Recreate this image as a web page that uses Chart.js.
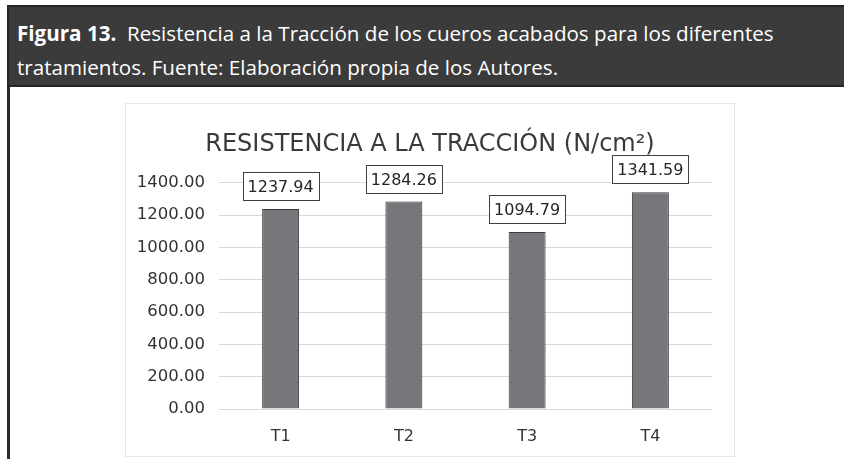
<!DOCTYPE html>
<html>
<head>
<meta charset="utf-8">
<script src="https://cdn.jsdelivr.net/npm/chart.js@4.4.1/dist/chart.umd.min.js"></script>
<style>
  html, body { margin: 0; padding: 0; background: #fff; }
  body { width: 844px; height: 459px; position: relative; overflow: hidden; font-family: "Open Sans", "Liberation Sans", sans-serif; }
  #banner { position: absolute; left: 7px; top: 5px; width: 850px; height: 82px; background: #3b3b3b; border: 2px solid #262626; box-sizing: border-box; color: #fff; font-family: "Open Sans", sans-serif; font-size: 20.6px; line-height: 34px; padding: 9px 0 0 8px; letter-spacing: 0; }
  #banner b { font-weight: bold; }
  #leftline { position: absolute; left: 7px; top: 87px; width: 3px; height: 380px; background: #2b2b2b; }
  #box { position: absolute; left: 125px; top: 103px; width: 610px; height: 354px; border: 1px solid #e6e6e6; box-sizing: border-box; background: #fff; }
  #c { position: absolute; left: 0; top: 0; }
</style>
</head>
<body>
<div id="banner"><b>Figura 13.</b>&nbsp; Resistencia a la Tracción de los cueros acabados para los diferentes<br>tratamientos. Fuente: Elaboración propia de los Autores.</div>
<div id="leftline"></div>
<div id="box"><canvas id="c" width="608" height="352"></canvas></div>
<script>
const categories = ["T1", "T2", "T3", "T4"];
const values = [1237.94, 1284.26, 1094.79, 1341.59];
const yTicks = [0, 200, 400, 600, 800, 1000, 1200, 1400];
const chartTitle = "RESISTENCIA A LA TRACCIÓN (N/cm²)";

const FONT = "'DejaVu Sans', sans-serif";

const labelBoxes = {
  id: "labelBoxes",
  afterLayout(chart) {
    if (chart.titleBlock) chart.titleBlock.left += 22;
  },
  afterDatasetsDraw(chart) {
    const ctx = chart.ctx;
    const meta = chart.getDatasetMeta(0);
    ctx.save();
    ctx.font = "16px " + FONT;
    ctx.textAlign = "center";
    ctx.textBaseline = "middle";
    meta.data.forEach((bar, i) => {
      const txt = values[i].toFixed(2);
      const w = Math.round(ctx.measureText(txt).width + 10);
      const h = 28;
      const bottom = bar.y - 9;
      const x0 = Math.round(bar.x - w / 2) + 0.5;
      const y0 = Math.round(bottom - h) + 0.5;
      ctx.fillStyle = "#ffffff";
      ctx.fillRect(x0, y0, w, h);
      ctx.strokeStyle = "#404040";
      ctx.lineWidth = 1;
      ctx.strokeRect(x0, y0, w, h);
      ctx.fillStyle = "#262626";
      ctx.fillText(txt, bar.x, y0 + h / 2 + 1);
    });
    ctx.restore();
  }
};

new Chart(document.getElementById("c"), {
  type: "bar",
  data: {
    labels: categories,
    datasets: [{
      data: values,
      backgroundColor: "#76777b",
      borderColor: "#3a3a3a",
      borderWidth: 1,
      categoryPercentage: 1,
      barPercentage: 0.3
    }]
  },
  options: {
    responsive: false,
    animation: false,
    devicePixelRatio: 1,
    layout: { padding: { left: 0, right: 22, top: 0, bottom: 0 } },
    plugins: {
      legend: { display: false },
      tooltip: { enabled: false },
      title: {
        display: true,
        text: chartTitle,
        color: "#3a3a3a",
        font: { family: FONT, size: 24, weight: "normal" },
        padding: { top: 26, bottom: 24 }
      }
    },
    scales: {
      x: {
        grid: { display: false },
        border: { display: false },
        ticks: { color: "#333", font: { family: FONT, size: 16 }, padding: 10 },
        afterFit(s) { s.height = 47; }
      },
      y: {
        min: 0,
        max: 1400,
        afterBuildTicks(s) { s.ticks = yTicks.map(v => ({ value: v })); },
        grid: { color: "#d9d9d9", lineWidth: 1, drawTicks: false },
        border: { display: false },
        ticks: {
          color: "#333",
          font: { family: FONT, size: 16.5 },
          padding: 14,
          callback: v => Number(v).toFixed(2)
        },
        afterFit(s) { s.width = 93; }
      }
    }
  },
  plugins: [labelBoxes]
});
</script>
</body>
</html>
